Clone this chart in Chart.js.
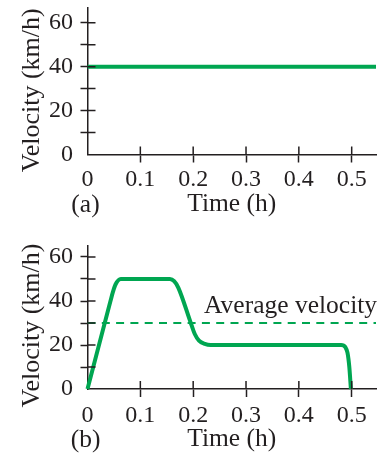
<!DOCTYPE html>
<html>
<head>
<meta charset="utf-8">
<script src="https://cdn.jsdelivr.net/npm/chart.js@4.4.1/dist/chart.umd.min.js"></script>
<style>
  html, body { margin: 0; padding: 0; background: #ffffff; }
  body { width: 390px; height: 457px; position: relative; overflow: hidden; }
  .box { position: absolute; left: 0; width: 390px; }
  #boxA { top: 0; height: 230px; }
  #boxB { top: 230px; height: 227px; }
</style>
</head>
<body>
<div class="box" id="boxA"><canvas id="chartA"></canvas></div>
<div class="box" id="boxB"><canvas id="chartB"></canvas></div>
<script>
// ---- data ----
const xTickValues = [0, 0.1, 0.2, 0.3, 0.4, 0.5];
const xTickLabels = ['0', '0.1', '0.2', '0.3', '0.4', '0.5'];
const yTickValues = [0, 10, 20, 30, 40, 50, 60];
const yTickLabels = ['0', '', '20', '', '40', '', '60'];

// (a) constant velocity
const timeA = [0, 0.546];
const velocityA = [40, 40];

// (b) varying velocity
const timeB = [0, 0.0326, 0.043, 0.048, 0.053, 0.063, 0.156, 0.164, 0.172, 0.1955, 0.203, 0.211, 0.222, 0.233, 0.480, 0.488, 0.492, 0.4955, 0.4985];
const velocityB = [0, 30, 39.5, 44, 47.5, 50, 50, 49, 46, 30, 25, 22, 20.5, 20, 20, 19, 16.5, 10, 0];

// average velocity (b)
const avgTime = [0, 0.546];
const avgVelocity = [30, 30];

const panelLabels = ['(a)', '(b)'];
const xTitle = 'Time (h)';
const yTitle = 'Velocity (km/h)';
const avgLabel = 'Average velocity';

// ---- styles ----
const INK = '#231f20';
const GREEN = '#00a651';
const SERIF = '"Liberation Serif", "Times New Roman", "DejaVu Serif", serif';
Chart.defaults.font.family = SERIF;
Chart.defaults.color = INK;

function pts(xs, ys) { return xs.map((x, i) => ({ x: x, y: ys[i] })); }

// draws the inner half of each tick mark, plus titles/labels drawn as text
function makeDecor(panelLabel, yShift, extra) {
  return {
    id: 'decor',
    afterDraw(chart) {
      const ctx = chart.ctx;
      const xs = chart.scales.x, ys = chart.scales.y;
      const ca = chart.chartArea;
      ctx.save();
      ctx.strokeStyle = INK;
      ctx.lineWidth = 1.5;
      ctx.beginPath();
      xs.ticks.forEach(t => {
        if (t.value === 0) return;
        const px = xs.getPixelForValue(t.value);
        ctx.moveTo(px, ca.bottom);
        ctx.lineTo(px, ca.bottom - 8);
      });
      ys.ticks.forEach(t => {
        if (t.value === 0) return;
        const py = ys.getPixelForValue(t.value);
        ctx.moveTo(ca.left, py);
        ctx.lineTo(ca.left + 8, py);
      });
      ctx.stroke();

      ctx.fillStyle = INK;
      // y title
      ctx.save();
      ctx.font = '26px ' + SERIF;
      ctx.textAlign = 'center';
      ctx.textBaseline = 'middle';
      ctx.translate(ca.left - 55.5, (ca.top + ca.bottom) / 2 + yShift);
      ctx.rotate(-Math.PI / 2);
      ctx.fillText(yTitle, 0, 0);
      ctx.restore();
      // panel label
      ctx.font = '25.5px ' + SERIF;
      ctx.textAlign = 'center';
      ctx.textBaseline = 'middle';
      const titleY = xs.bottom - 15 - (xs.options.title.padding.bottom || 0);
      ctx.fillText(panelLabel, ca.left - 2, titleY);
      if (extra) extra(chart, ctx);
      ctx.restore();
    }
  };
}

function makeOptions(yMax, padTop, xHeight, titlePadBottom, tickPad) {
  return {
    responsive: false,
    animation: false,
    events: [],
    layout: { padding: { top: padTop, right: 14, left: 0, bottom: 0 } },
    plugins: { legend: { display: false }, tooltip: { enabled: false } },
    elements: { point: { radius: 0 } },
    scales: {
      x: {
        type: 'linear',
        min: 0,
        max: 0.546,
        afterBuildTicks: s => { s.ticks = xTickValues.map(v => ({ value: v })); },
        afterFit: s => { s.height = xHeight; s.paddingLeft = 0; s.paddingRight = 0; s.paddingTop = 0; s.paddingBottom = 0; },
        ticks: {
          autoSkip: false, maxRotation: 0, padding: tickPad,
          font: { size: 24 }, color: INK,
          callback: (v, i) => xTickLabels[i]
        },
        grid: {
          drawOnChartArea: false, drawTicks: true, tickLength: 8,
          tickWidth: 1.5,
          tickColor: c => (c.tick && c.tick.value === 0) ? 'rgba(0,0,0,0)' : INK
        },
        border: { display: true, color: INK, width: 1.5 },
        title: {
          display: true, text: xTitle, color: INK,
          font: { size: 25.5 }, padding: { top: 0, bottom: titlePadBottom }
        }
      },
      y: {
        type: 'linear',
        min: 0,
        max: yMax,
        afterBuildTicks: s => { s.ticks = yTickValues.map(v => ({ value: v })); },
        afterFit: s => { s.width = 87.5; s.paddingLeft = 0; s.paddingRight = 0; s.paddingTop = 0; s.paddingBottom = 0; },
        ticks: {
          autoSkip: false, padding: 7.5,
          font: { size: 24 }, color: INK,
          callback: (v, i) => yTickLabels[i]
        },
        grid: {
          drawOnChartArea: false, drawTicks: true, tickLength: 7,
          tickWidth: 1.5,
          tickColor: c => (c.tick && c.tick.value === 0) ? 'rgba(0,0,0,0)' : INK
        },
        border: { display: true, color: INK, width: 1.5 }
      }
    }
  };
}

// ---- chart (a) ----
const cA = document.getElementById('chartA');
cA.width = 390; cA.height = 230;
new Chart(cA, {
  type: 'line',
  data: {
    datasets: [{
      data: pts(timeA, velocityA),
      borderColor: GREEN, borderWidth: 4, fill: false, tension: 0
    }]
  },
  options: makeOptions(66.7, 8, 75.5, 10, 2.5),
  plugins: [makeDecor(panelLabels[0], 9)]
});

// ---- chart (b) ----
const cB = document.getElementById('chartB');
cB.width = 390; cB.height = 227;
new Chart(cB, {
  type: 'line',
  data: {
    datasets: [
      {
        data: pts(avgTime, avgVelocity),
        borderColor: GREEN, borderWidth: 2, borderDash: [8, 6.3], fill: false, tension: 0
      },
      {
        data: pts(timeB, velocityB),
        borderColor: GREEN, borderWidth: 4, fill: false,
        cubicInterpolationMode: 'monotone', borderJoinStyle: 'round', clip: false
      }
    ]
  },
  options: makeOptions(65, 16, 68, 2, 4.5),
  plugins: [makeDecor(panelLabels[1], 8, (chart, ctx) => {
    const xs = chart.scales.x, ys = chart.scales.y;
    ctx.font = '25.5px ' + SERIF;
    ctx.textAlign = 'left';
    ctx.textBaseline = 'alphabetic';
    ctx.fillText(avgLabel, xs.getPixelForValue(0.2206), ys.getPixelForValue(30) - 10);
  })]
});
</script>
</body>
</html>
